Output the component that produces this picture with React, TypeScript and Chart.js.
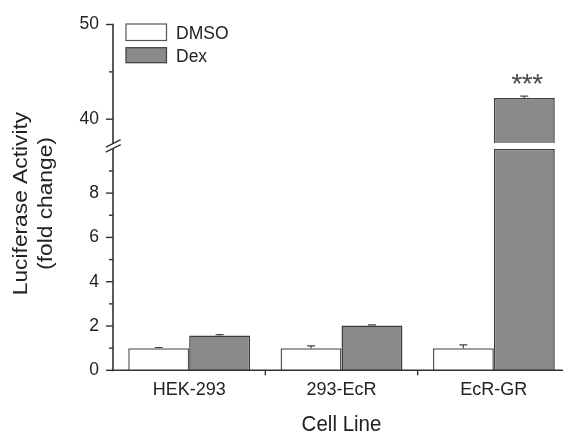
import React, { useEffect, useRef } from 'react';
import { Chart, registerables } from 'chart.js';

Chart.register(...registerables);

// ---- data ----
const categories = ['HEK-293', '293-EcR', 'EcR-GR'];
const seriesNames = ['DMSO', 'Dex'];
const dmsoValues = [1.0, 1.0, 1.0];
const dmsoErrors = [0.03, 0.1, 0.15];
const dexValues = [1.57, 2.02, 42.25];
const dexErrors = [0.04, 0.03, 0.18];
const significance = ['', '', '***'];
const lowerTicks = [0, 2, 4, 6, 8];
const lowerMinorTicks = [1, 3, 5, 7, 9];
const upperTicks = [40, 50];
const upperMinorTicks = [45];
const LOWER_MIN = 0;
const LOWER_MAX = 10;
const UPPER_MIN = 37.5;
const UPPER_MAX = 50;

// ---- styles ----
const FONT = "'Liberation Sans', Arial, Helvetica, sans-serif";
const TEXT = '#222222';
const AXIS = '#333333';
const DEX_FILL = '#8a8a8a';
const DEX_BORDER = '#3c3c3c';
const DMSO_FILL = '#ffffff';
const DMSO_BORDER = '#555555';

const W = 575;
const H = 431;

export default function App() {
  const ref = useRef<HTMLCanvasElement>(null);

  useEffect(() => {
    const canvas = ref.current;
    if (!canvas) return;

    const lowClamp = (v: number) => (v > LOWER_MAX ? LOWER_MAX : v);
    const highOnly = (v: number) => (v > LOWER_MAX ? v : null);

    const decor = {
      id: 'decor',
      afterDraw(chart: any) {
        const { ctx, chartArea } = chart;
        const xs = chart.scales.x;
        const yLow = chart.scales.yLow;
        const yHigh = chart.scales.yHigh;
        const left = chartArea.left;
        const base = yLow.getPixelForValue(LOWER_MIN);
        ctx.save();

        // axes
        ctx.strokeStyle = AXIS;
        ctx.lineWidth = 1.6;
        ctx.beginPath();
        ctx.moveTo(left, yHigh.getPixelForValue(UPPER_MAX) - 0.8);
        ctx.lineTo(left, base + 1);
        ctx.stroke();
        ctx.beginPath();
        ctx.moveTo(left - 0.8, base);
        ctx.lineTo(chart.width, base);
        ctx.stroke();

        const tick = (scale: any, v: number, len: number) => {
          const p = scale.getPixelForValue(v);
          ctx.beginPath();
          ctx.moveTo(left - len, p);
          ctx.lineTo(left, p);
          ctx.stroke();
        };
        ctx.lineWidth = 1.4;
        upperTicks.forEach((v) => tick(yHigh, v, 7));
        upperMinorTicks.forEach((v) => tick(yHigh, v, 4));
        lowerTicks.forEach((v) => tick(yLow, v, 7));
        lowerMinorTicks.forEach((v) => tick(yLow, v, 4));

        // category boundary ticks
        for (let i = 1; i < categories.length; i++) {
          const p = xs.getPixelForValue(i - 0.5);
          ctx.beginPath();
          ctx.moveTo(p, base);
          ctx.lineTo(p, base + 5);
          ctx.stroke();
        }

        // axis break
        const gy = (yHigh.bottom + yLow.top) / 2;
        ctx.fillStyle = '#ffffff';
        ctx.beginPath();
        ctx.moveTo(left - 7, gy + 1.3);
        ctx.lineTo(left + 7.7, gy - 6.3);
        ctx.lineTo(left + 7.7, gy - 1.3);
        ctx.lineTo(left - 7.3, gy + 6.3);
        ctx.closePath();
        ctx.fill();
        ctx.strokeStyle = AXIS;
        ctx.lineWidth = 1.3;
        ctx.beginPath();
        ctx.moveTo(left - 7, gy + 1.3);
        ctx.lineTo(left + 7.7, gy - 6.3);
        ctx.moveTo(left - 7.3, gy + 6.3);
        ctx.lineTo(left + 7.7, gy - 1.3);
        ctx.stroke();

        // error bars
        const drawErr = (dsLow: number, dsHigh: number, values: number[], errs: number[]) => {
          values.forEach((v, i) => {
            const high = v > LOWER_MAX;
            const scale = high ? yHigh : yLow;
            const meta = chart.getDatasetMeta(high ? dsHigh : dsLow);
            const el = meta.data[i];
            if (!el) return;
            const px = el.x;
            const p0 = scale.getPixelForValue(v);
            const p1 = scale.getPixelForValue(v + errs[i]);
            ctx.strokeStyle = '#444';
            ctx.lineWidth = 1.2;
            ctx.beginPath();
            ctx.moveTo(px, p0);
            ctx.lineTo(px, p1);
            ctx.moveTo(px - 4, p1);
            ctx.lineTo(px + 4, p1);
            ctx.stroke();
          });
        };
        drawErr(0, 2, dmsoValues, dmsoErrors);
        drawErr(1, 3, dexValues, dexErrors);

        // significance stars
        ctx.fillStyle = '#4a4a4a';
        ctx.font = `28px ${FONT}`;
        ctx.textAlign = 'center';
        ctx.textBaseline = 'alphabetic';
        significance.forEach((s, i) => {
          if (!s) return;
          const v = dexValues[i];
          const high = v > LOWER_MAX;
          const scale = high ? yHigh : yLow;
          const el = chart.getDatasetMeta(high ? 3 : 1).data[i];
          const top = scale.getPixelForValue(v + dexErrors[i]);
          const n = s.length;
          for (let k = 0; k < n; k++) {
            ctx.fillText('*', el.x + 3 + (k - (n - 1) / 2) * 10.3, top - 3);
          }
        });

        // legend
        const lx = left + 13;
        ctx.lineWidth = 1.2;
        ctx.fillStyle = DMSO_FILL;
        ctx.strokeStyle = DMSO_BORDER;
        ctx.fillRect(lx, 24, 40.5, 16.5);
        ctx.strokeRect(lx, 24, 40.5, 16.5);
        ctx.fillStyle = DEX_FILL;
        ctx.strokeStyle = DEX_BORDER;
        ctx.fillRect(lx, 47.7, 40.5, 15);
        ctx.strokeRect(lx, 47.7, 40.5, 15);
        ctx.fillStyle = TEXT;
        ctx.font = `17.5px ${FONT}`;
        ctx.textAlign = 'left';
        ctx.fillText(seriesNames[0], lx + 50, 38.5);
        ctx.fillText(seriesNames[1], lx + 50, 61.8);

        // y title
        ctx.save();
        const cy = 203.5;
        ctx.font = `20.5px ${FONT}`;
        ctx.textAlign = 'center';
        ctx.fillStyle = TEXT;
        ctx.translate(27.3, cy);
        ctx.rotate(-Math.PI / 2);
        ctx.scale(1.11, 1);
        ctx.fillText('Luciferase Activity', 0, 0);
        ctx.restore();
        ctx.save();
        ctx.font = `20.5px ${FONT}`;
        ctx.textAlign = 'center';
        ctx.fillStyle = TEXT;
        ctx.translate(51.5, cy);
        ctx.rotate(-Math.PI / 2);
        ctx.scale(1.11, 1);
        ctx.fillText('(fold change)', 0, 0);
        ctx.restore();

        // x title
        ctx.save();
        ctx.font = `20.5px ${FONT}`;
        ctx.textAlign = 'center';
        ctx.fillStyle = TEXT;
        ctx.translate((chartArea.left + chartArea.right) / 2, 430.5);
        ctx.scale(1, 1.08);
        ctx.fillText('Cell Line', 0, 0);
        ctx.restore();

        ctx.restore();
      },
    };

    const fixY = (s: any) => {
      s.width = 113;
    };

    const common = {
      backgroundColor: '',
      borderWidth: 1.5,
      barPercentage: 1,
      categoryPercentage: 0.8,
      borderSkipped: 'start' as const,
    };

    const chart = new Chart(canvas, {
      type: 'bar',
      data: {
        labels: categories,
        datasets: [
          { ...common, label: seriesNames[0], data: dmsoValues.map(lowClamp), yAxisID: 'yLow', stack: 'dmso', backgroundColor: DMSO_FILL, borderColor: DMSO_BORDER },
          { ...common, label: seriesNames[1], data: dexValues.map(lowClamp), yAxisID: 'yLow', stack: 'dex', backgroundColor: DEX_FILL, borderColor: DEX_BORDER },
          { ...common, label: seriesNames[0], data: dmsoValues.map(highOnly), yAxisID: 'yHigh', stack: 'dmso', backgroundColor: DMSO_FILL, borderColor: DMSO_BORDER },
          { ...common, label: seriesNames[1], data: dexValues.map(highOnly), yAxisID: 'yHigh', stack: 'dex', backgroundColor: DEX_FILL, borderColor: DEX_BORDER },
        ],
      },
      options: {
        responsive: false,
        animation: false,
        events: [],
        layout: { padding: { top: 20, left: 0, right: 5, bottom: 0 } },
        plugins: { legend: { display: false }, tooltip: { enabled: false }, title: { display: false } },
        scales: {
          x: {
            type: 'category',
            stacked: true,
            offset: true,
            grid: { display: false, drawTicks: false },
            border: { display: false },
            ticks: { font: { family: FONT, size: 18 }, color: TEXT, padding: 9, maxRotation: 0 },
            afterFit: (s: any) => {
              s.height = 60.7;
            },
          },
          yLow: {
            type: 'linear',
            position: 'left',
            stack: 'yaxis',
            stackWeight: 224.5,
            stacked: false,
            min: LOWER_MIN,
            max: LOWER_MAX,
            grid: { display: false, drawTicks: false },
            border: { display: false },
            ticks: { font: { family: FONT, size: 17.5 }, color: TEXT, padding: 14 },
            afterBuildTicks: (s: any) => {
              s.ticks = lowerTicks.map((v) => ({ value: v }));
            },
            afterFit: fixY,
          },
          yGap: {
            type: 'linear',
            position: 'left',
            stack: 'yaxis',
            stackWeight: 6,
            stacked: false,
            min: 0,
            max: 1,
            grid: { display: false, drawTicks: false },
            border: { display: false },
            ticks: { display: false },
            afterFit: fixY,
          },
          yHigh: {
            type: 'linear',
            position: 'left',
            stack: 'yaxis',
            stackWeight: 120,
            stacked: false,
            min: UPPER_MIN,
            max: UPPER_MAX,
            grid: { display: false, drawTicks: false },
            border: { display: false },
            ticks: { font: { family: FONT, size: 17.5 }, color: TEXT, padding: 14 },
            afterBuildTicks: (s: any) => {
              s.ticks = upperTicks.map((v) => ({ value: v }));
            },
            afterFit: fixY,
          },
        },
      },
      plugins: [decor],
    } as any);

    return () => chart.destroy();
  }, []);

  return (
    <div style={{ position: 'fixed', left: 0, top: 0, width: W, height: H, background: '#ffffff' }}>
      <canvas ref={ref} width={W} height={H} style={{ display: 'block' }} />
    </div>
  );
}
